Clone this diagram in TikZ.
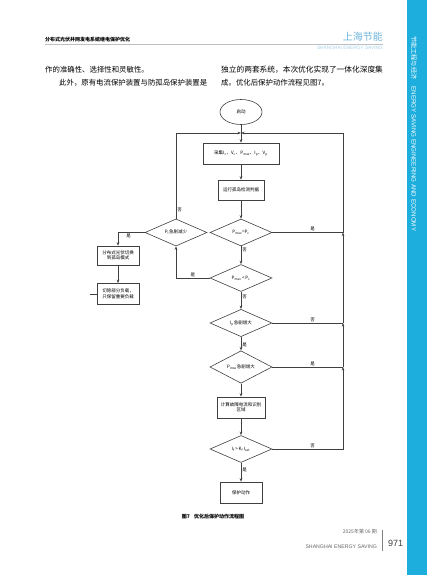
\documentclass[tikz,border=0pt]{standalone}
\usepackage{fontspec}
\setmainfont{Liberation Sans}
\newfontfamily\cjk{Noto Sans CJK SC}
\usetikzlibrary{arrows.meta,shapes.geometric,positioning}
\definecolor{sideblue}{HTML}{1DAEDD}
\definecolor{headblue}{HTML}{6CB4DA}
\definecolor{linegray}{HTML}{404040}

\begin{document}
\begin{tikzpicture}[x=1pt,y=-1pt,
    box/.style={draw=linegray, line width=0.6pt, font=\cjk\fontsize{4.5}{5.5}\selectfont, align=center, inner sep=1pt},
    cond/.style={diamond, draw=linegray, line width=0.6pt, minimum width=62pt, minimum height=27pt, inner sep=0pt, font=\cjk\fontsize{4.5}{5.5}\selectfont},
    line/.style={draw=linegray, line width=0.6pt},
    flow/.style={line, -{Stealth[length=3.5pt,width=2.6pt]}},
    tag/.style={font=\cjk\fontsize{4.5}{5}\selectfont, inner sep=1pt},
    body/.style={font=\cjk\fontsize{7.4}{9}\selectfont, anchor=west, inner sep=0pt},
]
    \useasboundingbox (0,0) rectangle (427,575);
    \fill[white] (0,0) rectangle (427,575);

    % side band
    \fill[sideblue] (407,0) rectangle (427,575);
    \node[rotate=-90, anchor=west, text=white, inner sep=0pt, font=\fontsize{6.2}{7}\selectfont] (band) at (414,36)
        {{\cjk\fontsize{6.2}{7}\selectfont 节能工程与经济}\hspace{7pt}ENERGY SAVING ENGINEERING AND ECONOMY};

    % running head
    \node[anchor=west, inner sep=0pt, font=\cjk\bfseries\fontsize{5}{6}\selectfont] (runhead) at (45,40) {分布式光伏并网发电系统继电保护优化};
    \draw[black!25, line width=0.5pt] (45,44) -- (383,44);
    \node[anchor=east, inner sep=0pt, text=headblue, font=\cjk\fontsize{10}{11}\selectfont] (journal) at (383,37) {上海节能};
    \node[anchor=east, inner sep=0pt, text=headblue!60, font=\fontsize{4.8}{5}\selectfont] (journalen) at (383,48) {SHANGHAI ENERGY SAVING};

    % body text
    \node[body] (para1) at (45,70) {作的准确性、选择性和灵敏性。};
    \node[body] (para2) at (59,83) {此外，原有电流保护装置与防孤岛保护装置是};
    \node[body, font=\cjk\fontsize{7.7}{9}\selectfont] (para3) at (221,70) {独立的两套系统，本次优化实现了一体化深度集};
    \node[body] (para4) at (221,83) {成。优化后保护动作流程见图7。};

    % flow chart
    \node[ellipse, draw=linegray, line width=0.6pt, minimum width=42pt, minimum height=25pt, inner sep=0pt,
          font=\cjk\fontsize{4.5}{5.5}\selectfont] (start) at (241,112) {启动};
    \coordinate (jn) at (241,133);
    \coordinate (rt) at (343,133);
    \node[box, minimum width=76pt, minimum height=21pt] (collect) at (241,153.5)
        {采集I\textsubscript{c}、V\textsubscript{c}、P\textsubscript{max}、I\textsubscript{p}、V\textsubscript{p}};
    \node[box, minimum width=46pt, minimum height=20pt] (detect) at (241,190) {运行孤岛检测判据};
    \node[cond] (pmaxeq) at (241,232.5) {P\textsubscript{max}=P\textsubscript{c}};
    \node[cond] (plload) at (176,232.5) {P\textsubscript{l}急剧减少};
    \node[cond] (pmaxlt) at (241,278) {P\textsubscript{max}\,<\,P\textsubscript{c}};
    \node[cond] (ipup) at (241,323) {I\textsubscript{p}急剧增大};
    \node[cond] (pmaxup) at (241,367) {P\textsubscript{max}急剧增大};
    \node[box, minimum width=48pt, minimum height=21pt] (calc) at (241,407.5) {计算故障电流和识别\\区域};
    \node[cond] (ifset) at (241,449) {I\textsubscript{f}\,>\,K\textsubscript{f}\,I\textsubscript{set}};
    \node[box, minimum width=42pt, minimum height=21pt] (trip) at (241,492.5) {保护动作};
    \node[box, minimum width=42pt, minimum height=19pt] (island) at (118,255.5) {分布式光伏切换\\到孤岛模式};
    \node[box, minimum width=42pt, minimum height=21pt] (shed) at (118,294) {切除部分负载，\\只保留重要负载};
    \coordinate (stub) at (90,294);

    \coordinate (j1) at (pmaxeq.east -| rt);
    \coordinate (j3) at (ipup.east -| rt);
    \coordinate (j4) at (pmaxup.east -| rt);
    \coordinate (j5) at (ifset.east -| rt);

    \draw[line] (start) -- (jn);
    \draw[flow] (jn) -- (collect);
    \draw[flow] (collect) -- (detect);
    \draw[flow] (detect) -- (pmaxeq);
    \draw[flow] (pmaxeq) -- node[tag, right, pos=0.2] (no1) {否} (pmaxlt);
    \draw[flow] (pmaxlt.west) -| node[tag, above, pos=0.25] (yes2) {是} (plload.south);
    \draw[flow] (pmaxlt) -- node[tag, right, pos=0.3] (no2) {否} (ipup);
    \draw[flow] (ipup) -- node[tag, right, pos=0.6] (yes3) {是} (pmaxup);
    \draw[flow] (pmaxup) -- (calc);
    \draw[flow] (calc) -- (ifset);
    \draw[flow] (ifset) -- node[tag, right, pos=0.4] (yes5) {是} (trip);

    % back to the top
    \draw[flow] (plload.north) |- node[tag, right, pos=0.05] (no0) {否} (jn);
    \draw[line] (pmaxeq.east) -- node[tag, above, pos=0.57] (yes1) {是} (j1);
    \draw[line] (ipup.east) -- node[tag, above, pos=0.57] (no3) {否} (j3);
    \draw[line] (pmaxup.east) -- node[tag, above, pos=0.57] (yes4) {是} (j4);
    \draw[flow] (ifset.east) -- node[tag, above, pos=0.57] (no5) {否} (j5) -- (j4);
    \draw[flow] (j4) -- (j3);
    \draw[flow] (j3) -- (j1);
    \draw[flow] (j1) -- (rt) -- (jn);

    % island branch
    \draw[flow] (plload.west) -| node[tag, below, pos=0.3] (yes0) {是} (island.north);
    \draw[flow] (island) -- (shed);
    \draw[line] (shed.west) -- (stub);

    \node[inner sep=0pt, font=\cjk\bfseries\fontsize{5}{6}\selectfont] (caption) at (213,517) {图7\hspace{4pt}优化后保护动作流程图};

    % foot
    \node[anchor=east, inner sep=0pt, text=black!60, font=\cjk\fontsize{5}{6}\selectfont] (issue) at (377,532) {2025年第 06 期};
    \node[anchor=east, inner sep=0pt, text=black!60, font=\fontsize{5.2}{6}\selectfont] (footen) at (377,547) {SHANGHAI ENERGY SAVING};
    \draw[black!50, line width=0.5pt] (382,530) -- (382,551);
    \node[anchor=west, inner sep=0pt, text=black!75, font=\fontsize{9}{10}\selectfont] (pageno) at (388,543) {971};
\end{tikzpicture}
\end{document}
